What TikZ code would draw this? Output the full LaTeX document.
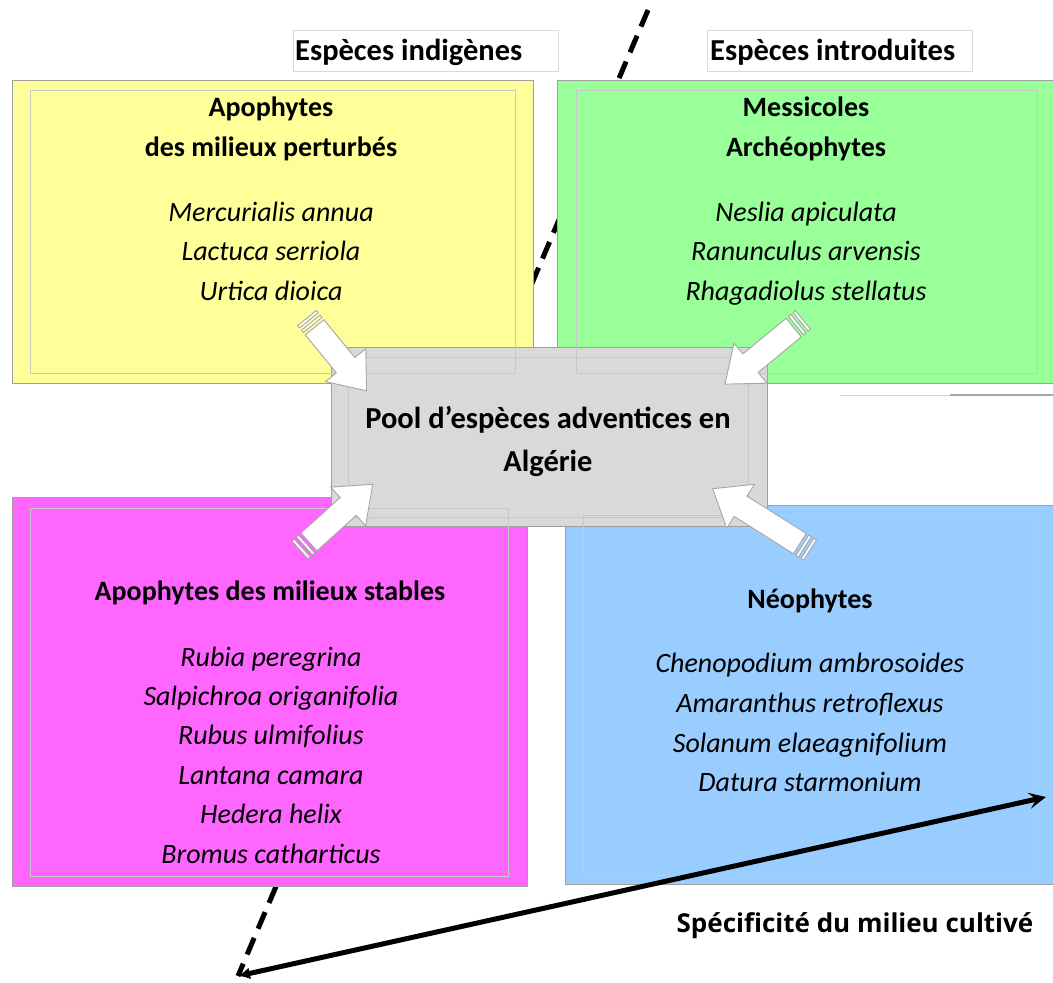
\documentclass[tikz,border=0pt]{standalone}
\usepackage{fontspec}
\setmainfont{Carlito}
\newfontfamily\axisfont{Open Sans}
\usetikzlibrary{arrows.meta}
\definecolor{yellowc}{HTML}{FFFF99}
\definecolor{greenc}{HTML}{99FF99}
\definecolor{magc}{HTML}{FF66FF}
\definecolor{bluec}{HTML}{99CCFF}
\definecolor{grayc}{HTML}{D9D9D9}
\definecolor{framec}{HTML}{C8C8C8}
\tikzset{
  qbox/.style={draw=gray!75, line width=0.8pt, anchor=north west, inner sep=0pt},
  innerframe/.style={draw=framec, line width=0.6pt},
  lbox/.style={draw=gray!30, fill=white, line width=0.8pt, anchor=north west, minimum height=41pt, inner sep=0pt},
  ttl/.style={font=\fontsize{28}{34}\selectfont\bfseries, anchor=base, inner sep=0pt},
  sp/.style={font=\fontsize{28}{34}\selectfont\itshape, anchor=base, inner sep=0pt},
  ctr/.style={font=\fontsize{30.5}{36}\selectfont\bfseries, anchor=base, inner sep=0pt},
  lbl/.style={font=\fontsize{30.5}{36}\selectfont\bfseries, anchor=base west, inner sep=0pt},
  barrowsty/.style={draw=gray!70, fill=white, line width=0.9pt, line join=miter},
  barrow/.pic={
    \path[barrowsty] (0,-12) rectangle (3,12);
    \path[barrowsty] (6,-12) rectangle (9,12);
    \path[barrowsty] (12,-12) -- ({#1-33},-12) -- ({#1-33},-26) -- (#1,0) -- ({#1-33},26) -- ({#1-33},12) -- (12,12) -- cycle;
  },
  dashax/.style={line width=5pt, dash pattern=on 18pt off 10pt, black},
  solidax/.style={line width=5pt, black},
}
\begin{document}
\begin{tikzpicture}[x=1pt,y=-1pt]
\useasboundingbox (0,0) rectangle (1053,983);
\fill[white] (0,0) rectangle (1053,983);
% dashed axis behind the boxes
\coordinate (dtop) at (648,10);
\coordinate (origin) at (238,976);
\draw[dashax] (dtop) -- (origin);
% quadrant boxes
\node[qbox, fill=yellowc, minimum width=521pt, minimum height=303pt] (yellow) at (12,80) {};
\node[qbox, fill=greenc, minimum width=500pt, minimum height=303pt] (green) at (557,80) {};
\node[qbox, fill=magc, minimum width=515pt, minimum height=389pt] (mag) at (12,497) {};
\node[qbox, fill=bluec, minimum width=492pt, minimum height=379pt] (blue) at (565,505) {};
\draw[gray!35, line width=1pt] (840,395) -- (950,395);
\draw[gray!70, line width=1.2pt] (950,395) -- (1053,395);
% centre box
\node[qbox, fill=grayc, minimum width=436pt, minimum height=179pt] (pool) at (331,347) {};
% faint inner frames
\draw[innerframe] (30,90) rectangle (515,373);
\draw[innerframe] (576,90) rectangle (1037,373);
\draw[innerframe] (348,357) rectangle (748,517);
\draw[innerframe] (30,508) rectangle (508,876);
\draw[innerframe] (583,515) rectangle (1037,875);
% block arrows
\pic[rotate=-50.7] at (307,318) {barrow=94};
\pic[rotate=-140.6] at (803,320) {barrow=101};
\pic[rotate=42.1] at (300,550) {barrow=98};
\pic[rotate=147.8] at (810,550) {barrow=115};
% texts yellow
\node[ttl] (y1) at (271,116) {Apophytes};
\node[ttl] (y2) at (271,156) {des milieux perturbés};
\node[sp] (y3) at (271,221) {Mercurialis annua};
\node[sp] (y4) at (271,260) {Lactuca serriola};
\node[sp] (y5) at (271,300) {Urtica dioica};
% green
\node[ttl] (g1) at (806,116) {Messicoles};
\node[ttl] (g2) at (806,156) {Archéophytes};
\node[sp] (g3) at (806,221) {Neslia apiculata};
\node[sp] (g4) at (806,260) {Ranunculus arvensis};
\node[sp] (g5) at (806,300) {Rhagadiolus stellatus};
% centre
\node[ctr] (c1) at (548,428) {Pool d’espèces adventices en};
\node[ctr] (c2) at (548,471) {Algérie};
% magenta
\node[ttl] (m1) at (270,600) {Apophytes des milieux stables};
\node[sp] (m2) at (271,666) {Rubia peregrina};
\node[sp] (m3) at (271,705) {Salpichroa origanifolia};
\node[sp] (m4) at (271,744) {Rubus ulmifolius};
\node[sp] (m5) at (271,784) {Lantana camara};
\node[sp] (m6) at (271,823) {Hedera helix};
\node[sp] (m7) at (271,863) {Bromus catharticus};
% blue
\node[ttl] (b1) at (810,608) {Néophytes};
\node[sp] (b2) at (810,672) {Chenopodium ambrosoides};
\node[sp] (b3) at (810,712) {Amaranthus retroflexus};
\node[sp] (b4) at (810,752) {Solanum elaeagnifolium};
\node[sp] (b5) at (810,791) {Datura starmonium};
% labels
\node[lbox, minimum width=265pt] (lab1) at (293,30) {};
\node[lbl] (lab1t) at (295,60) {Espèces indigènes};
\node[lbox, minimum width=265pt] (lab2) at (707,30) {};
\node[lbl] (lab2t) at (710,60) {Espèces introduites};
% solid axis
\coordinate (aend) at (1046,797);
\draw[solidax, {Latex[length=12pt,width=12pt]}-{Stealth[length=17pt,width=16pt,inset=7pt]}] (origin) -- (aend);
\node[font=\axisfont\fontsize{26}{30}\selectfont\bfseries, anchor=base, inner sep=0pt] (axl) at (855,932) {Spécificité du milieu cultivé};
\end{tikzpicture}
\end{document}
